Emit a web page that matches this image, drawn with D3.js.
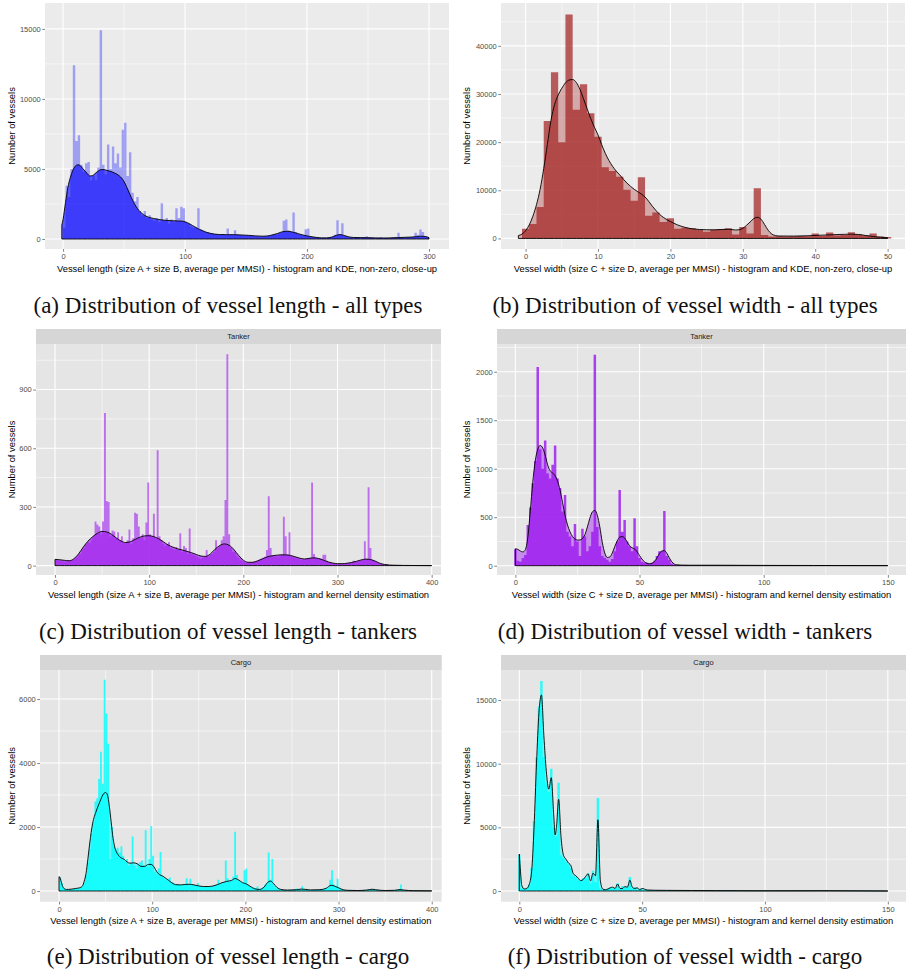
<!DOCTYPE html>
<html>
<head>
<meta charset="utf-8">
<script src="https://cdn.jsdelivr.net/npm/d3@7"></script>
<style>
  body { margin: 0; background: #fff; }
</style>
</head>
<body>
<div id="fig"></div>
<script>
////////////////////////
// DATA (read off fig) //
////////////////////////

// (a) all types, length: bins of 2 from 0
var countsA = [800,3800,3000,5000,12400,7000,7400,5300,4800,5400,
  5500,4200,4500,4200,5100,14900,5300,4600,6750,5000,
  6600,5400,6100,5100,7800,8300,4500,6200,3300,2700,
  3000,2000,1700,2000,1500,1700,1400,1300,1500,1200,
  2550,1300,1500,1100,1400,1200,2200,1500,2300,2200,
  1200,1100,900,800,800,2200,700,600,500,500,
  400,400,350,300,300,350,300,750,300,300,
  620,300,280,260,250,240,230,220,200,200,
  190,180,190,200,250,300,350,300,400,450,
  1300,1400,600,500,1900,500,350,300,250,700,
  750,200,150,130,120,110,100,90,100,120,
  150,300,1340,300,1120,200,150,120,110,100,
  100,90,100,120,200,150,100,90,80,90,
  150,80,70,80,90,100,120,450,120,100,
  110,120,130,150,450,300,670,500,200,150];
var kdeA = [[-1,1000],[0,1400],[2,2600],[4,3700],[6,4400],[8,4900],[10,5200],[12,5300],[14,5250],[16,5050],
  [18,4850],[20,4650],[22,4500],[24,4520],[26,4650],[28,4800],[30,4920],[32,4960],[34,4950],[36,4900],
  [38,4850],[40,4800],[42,4720],[44,4640],[46,4520],[48,4350],[50,4100],[52,3750],[54,3350],[56,2950],
  [58,2600],[60,2300],[62,2060],[64,1880],[66,1740],[68,1630],[70,1560],[74,1470],[78,1400],[82,1350],
  [86,1320],[90,1300],[94,1290],[98,1270],[100,1230],[102,1160],[104,1070],[106,970],[108,870],[110,770],
  [112,680],[114,600],[116,530],[118,470],[120,420],[124,350],[128,320],[134,310],[140,310],[146,290],
  [152,260],[158,220],[164,200],[168,220],[172,300],[176,400],[180,520],[184,550],[188,500],[192,400],
  [196,300],[200,220],[204,160],[208,110],[212,80],[216,80],[220,130],[224,260],[227,320],[230,260],
  [234,160],[238,110],[244,100],[250,90],[256,80],[262,70],[268,80],[274,100],[280,120],[286,140],
  [290,170],[294,200],[297,180],[300,100]];

// (b) all types, width: bins of 1 centred on integers
var countsB = [2000,3000,6500,24400,34500,20000,46500,26700,32000,26000,
  21100,14800,14000,12800,10100,7800,12700,4700,5400,3400,
  4200,2000,2200,2100,1800,1400,1800,1900,2100,800,
  2350,1000,10400,700,400,450,400,450,500,450,
  1000,500,1250,600,700,1300,800,600,1000,400,300];
var kdeB = [[-1,600],[-0.5,900],[0,1600],[0.5,2800],[1,4600],[1.5,7000],[2,10200],[2.5,14500],[3,19500],[3.5,24500],
  [4,27800],[4.5,29800],[5,31200],[5.5,32300],[6,32900],[6.5,33000],[7,32400],[7.5,31000],[8,29000],[8.5,26900],
  [9,24900],[9.5,23100],[10,21500],[10.5,19500],[11,17700],[11.5,16200],[12,15000],[12.5,14000],[13,13200],[13.5,12300],
  [14,11500],[14.5,10800],[15,10200],[15.5,9700],[16,9200],[16.5,8600],[17,7700],[17.5,6700],[18,5800],[18.5,5000],
  [19,4400],[19.5,3900],[20,3500],[21,2800],[22,2300],[23,2000],[24,1850],[25,1800],[26,1780],[27,1850],
  [28,1900],[29,1750],[29.5,1800],[30,2100],[30.5,2700],[31,3400],[31.5,4100],[32,4400],[32.5,4000],[33,2900],
  [33.5,1700],[34,900],[34.5,600],[35,500],[37,480],[39,550],[41,680],[43,800],[45,880],[46,820],
  [47,600],[48,400],[49,250],[50,150]];

// (c) tankers, length: bins of 2 from 0
var countsC = [30,28,25,22,20,20,22,25,28,30,
  35,45,55,60,80,90,110,120,115,130,
  150,225,210,200,160,225,780,330,325,150,
  180,175,140,170,130,150,115,120,130,185,
  110,140,270,265,200,140,160,130,220,425,
  160,150,265,140,590,150,130,110,100,110,
  120,90,85,80,95,80,165,70,100,90,
  60,190,60,55,50,45,40,35,40,45,
  80,45,55,60,70,130,90,100,130,150,
  335,1080,160,90,70,70,50,40,30,25,
  20,15,15,15,18,20,22,25,30,35,
  40,45,80,355,90,50,45,50,45,50,
  55,250,150,55,170,50,45,40,38,35,
  30,30,32,35,38,40,425,60,40,35,
  38,35,55,55,25,18,15,12,10,8,
  8,8,10,10,12,12,14,16,25,18,
  20,22,25,30,125,35,400,90,30,25,
  18,12,10,8,6,5,4,3,3,2,
  2,1,1,1,1,1,1,1,1,0,
  0,0,0,0,0,0,0,0,0,0];
var kdeC = [[0,32],[5,30],[10,27],[15,25],[20,35],[25,60],[30,95],[35,125],[40,148],[45,165],
  [50,175],[55,172],[60,160],[65,142],[70,126],[75,118],[80,122],[85,134],[90,145],[95,152],
  [100,153],[105,148],[110,138],[115,122],[120,106],[125,95],[130,86],[135,80],[140,73],[145,66],
  [150,57],[155,49],[160,47],[165,60],[170,84],[175,103],[180,111],[185,104],[190,82],[195,52],
  [200,28],[205,17],[210,17],[215,24],[220,34],[225,44],[230,50],[235,53],[240,55],[245,55],
  [250,52],[255,45],[260,38],[265,34],[270,37],[275,40],[280,36],[285,28],[290,19],[295,13],
  [300,10],[305,10],[310,12],[315,16],[320,22],[325,29],[330,33],[335,31],[340,23],[345,12],
  [350,6],[355,3],[360,2],[370,1],[380,0.5],[400,0]];

// (d) tankers, width: bins of 1 centred on integers
var countsD = [170,50,40,80,110,420,600,850,1080,2050,
  1200,1000,1290,950,900,1040,1240,900,800,560,
  730,350,300,200,430,250,100,380,300,150,
  200,350,2175,400,200,100,80,60,40,70,
  150,250,780,350,470,250,200,150,490,200,
  80,40,30,30,25,30,50,100,150,150,
  565,100,60,20,10,5,4,3,3,3,
  2,2,2,2,2,2,2,2,2,2,
  2,2,1,2,1,2,1,1,2,1,
  1,1,1,1,1,1,1,1,1,1,
  1,1,1,1,1,0,1,1,0,1,
  1,0,1,0,1,1,0,1,0,1,
  0,1,0,1,0,0,1,0,1,0,
  0,1,0,0,1,0,0,1,0,0,
  0,0,1,0,0,0,0,1,0,0,0];
var kdeD = [[0,175],[1,168],[2,152],[3,142],[4,165],[5,290],[6,560],[7,860],[8,1080],[9,1200],
  [10,1240],[11,1215],[12,1140],[13,1040],[14,980],[15,955],[16,930],[17,870],[18,780],[19,650],
  [20,520],[21,420],[22,350],[23,300],[24,275],[25,265],[26,265],[27,280],[28,320],[29,400],
  [30,490],[31,555],[32,570],[33,520],[34,400],[35,240],[36,130],[37,85],[38,90],[39,130],
  [40,195],[41,255],[42,295],[43,300],[44,285],[45,245],[46,205],[47,185],[48,172],[49,145],
  [50,105],[51,68],[52,40],[53,25],[54,20],[55,25],[56,42],[57,80],[58,125],[59,152],
  [60,155],[61,128],[62,80],[63,40],[64,17],[65,9],[67,6],[70,5],[80,5],[90,4],
  [100,3],[120,2],[150,1]];

// (e) cargo, length: bins of 2 from 0
var countsE = [430,250,100,60,50,45,50,55,65,75,
  90,110,140,250,500,900,1300,1800,2150,2800,
  2900,3500,4350,3350,6600,5550,4600,1000,2000,1400,
  1300,1350,1200,1400,1100,950,1000,800,850,1700,
  800,700,850,900,950,800,1900,750,1000,2030,
  1100,600,550,700,1220,450,400,350,380,420,
  280,250,220,200,190,180,200,220,400,200,
  380,200,190,180,250,160,150,140,130,140,
  130,140,150,170,200,350,230,260,280,950,
  400,300,320,450,1850,500,350,300,250,650,
  700,200,160,120,100,80,150,60,70,100,
  180,250,1200,350,1000,150,100,70,50,40,
  35,30,30,30,35,40,45,80,60,50,
  150,50,45,40,35,30,35,40,40,45,
  50,45,60,90,120,350,650,200,150,380,
  100,60,40,30,25,20,15,15,15,15,
  15,18,20,25,30,35,40,50,60,45,
  35,25,20,15,15,12,12,14,15,18,
  20,30,60,200,40,25,15,12,10,8,
  8,6,6,5,5,5,4,4,4,4];
var kdeE = [[0,450],[1,420],[2,330],[3,220],[4,140],[5,90],[6,65],[8,50],[10,50],[14,60],
  [18,80],[22,100],[25,150],[27,300],[29,550],[31,1000],[33,1500],[36,2100],[40,2500],[44,2800],
  [47,3000],[50,3080],[52,3000],[54,2650],[56,2150],[58,1650],[60,1350],[63,1150],[66,1050],[70,990],
  [73,910],[76,870],[80,880],[84,850],[88,770],[92,770],[96,830],[99,830],[102,750],[105,600],
  [108,510],[111,470],[115,390],[120,280],[125,200],[130,190],[135,205],[140,210],[145,190],[150,160],
  [155,140],[160,140],[165,155],[170,200],[175,260],[180,300],[185,330],[189,390],[193,340],[197,260],
  [201,220],[205,150],[210,70],[215,50],[220,120],[224,270],[227,310],[230,240],[234,110],[238,50],
  [245,30],[255,40],[260,60],[265,50],[270,35],[280,40],[287,90],[292,180],[296,150],[300,100],
  [305,40],[310,22],[320,15],[330,30],[336,55],[340,40],[350,15],[360,22],[366,45],[370,30],
  [380,10],[400,5]];

// (f) cargo, width: bins of 1 centred on integers
var countsF = [2800,200,150,250,500,1800,5500,10500,14500,16500,
  10500,8500,7800,9600,5000,4300,8500,2800,2600,2300,
  2100,1800,1200,1100,900,800,1000,1000,1400,600,
  1600,700,7300,200,100,100,200,300,200,200,
  600,150,400,300,300,1100,200,300,100,200,
  100,80,70,70,60,60,60,50,50,50,
  50,40,40,40,40,40,40,40,40,40,
  40,35,35,35,35,35,35,30,30,30,
  30,30,30,30,30,30,30,30,25,25,
  25,25,25,25,25,25,25,25,25,25,
  20,20,20,20,20,20,20,20,20,20,
  20,20,20,20,20,20,20,20,20,20,
  20,20,20,20,20,60,20,20,20,20,
  20,20,20,20,20,15,15,15,15,15,
  15,15,15,15,15,15,15,15,15,15,10];
var kdeF = [[0,2900],[0.5,1500],[1,450],[2,160],[3,200],[4,500],[5,1500],[6,5000],[7,10000],[8,14000],
  [9,15400],[10,12200],[11,9400],[12,8000],[13,8900],[14,6000],[14.6,4400],[15.2,5200],[16,7200],[17,4200],
  [18,2800],[19,2500],[20,2200],[21,2000],[22,1350],[23,1200],[24,1000],[25,820],[26,900],[27,1150],
  [28,1350],[29,800],[30,1400],[31,1200],[32,5600],[33,800],[34,150],[35,100],[36,150],[37,250],
  [38,300],[39,200],[40,550],[41,200],[42,200],[43,350],[44,300],[45,850],[46,300],[47,200],
  [48,250],[49,100],[50,200],[51,150],[52,80],[55,60],[60,50],[70,40],[80,30],[100,20],
  [126,25],[150,0]];

// tick values
var xTicksLenAll = [0, 100, 200, 300], xMinorLenAll = [50, 150, 250];
var xTicksWidAll = [0, 10, 20, 30, 40, 50], xMinorWidAll = [5, 15, 25, 35, 45];
var xTicksLen = [0, 100, 200, 300, 400], xMinorLen = [50, 150, 250, 350];
var xTicksWid = [0, 50, 100, 150], xMinorWid = [25, 75, 125];
var yTicksA = [0, 5000, 10000, 15000], yMinorA = [2500, 7500, 12500];
var yTicksB = [0, 10000, 20000, 30000, 40000], yMinorB = [5000, 15000, 25000, 35000, 45000];
var yTicksC = [0, 300, 600, 900], yMinorC = [150, 450, 750, 1050];
var yTicksD = [0, 500, 1000, 1500, 2000], yMinorD = [250, 750, 1250, 1750, 2250];
var yTicksE = [0, 2000, 4000, 6000], yMinorE = [1000, 3000, 5000];
var yTicksF = [0, 5000, 10000, 15000], yMinorF = [2500, 7500, 12500];

// texts
var yTitle = "Number of vessels";
var xTitles = [
  "Vessel length (size A + size B, average per MMSI) - histogram and KDE, non-zero, close-up",
  "Vessel width (size C + size D, average per MMSI) - histogram and KDE, non-zero, close-up",
  "Vessel length (size A + size B, average per MMSI) - histogram and kernel density estimation",
  "Vessel width (size C + size D, average per MMSI) - histogram and kernel density estimation"
];
var captions = [
  "(a) Distribution of vessel length - all types",
  "(b) Distribution of vessel width - all types",
  "(c) Distribution of vessel length - tankers",
  "(d) Distribution of vessel width - tankers",
  "(e) Distribution of vessel length - cargo",
  "(f) Distribution of vessel width - cargo"
];
var stripLabels = ["Tanker", "Cargo"];

/////////////
// PANELS  //
/////////////

var panels = [
  { counts: countsA, binStart: 0, binWidth: 2, kde: kdeA,
    box: [45, 449, 3, 249], xDomain: [-14.8, 316.4], yDomain: [-714, 16850],
    xTicks: xTicksLenAll, xMinor: xMinorLenAll, yTicks: yTicksA, yMinor: yMinorA,
    fill: "#0000ff", histAlpha: 0.32, kdeAlpha: 0.62, bg: "#ebebeb",
    xTitle: xTitles[0], strip: null, caption: captions[0], capX: 228, capY: 313, yTitleX: 12 },
  { counts: countsB, binStart: -0.5, binWidth: 1, kde: kdeB,
    box: [501, 905, 3, 249], xDomain: [-3.4, 52.4], yDomain: [-2200, 48900],
    xTicks: xTicksWidAll, xMinor: xMinorWidAll, yTicks: yTicksB, yMinor: yMinorB,
    fill: "#a52a2a", histAlpha: 0.75, kdeAlpha: 0.35, bg: "#ebebeb",
    xTitle: xTitles[1], strip: null, caption: captions[1], capX: 685, capY: 313, yTitleX: 467 },
  { counts: countsC, binStart: 0, binWidth: 2, kde: kdeC,
    box: [36, 441, 344, 575], xDomain: [-20.2, 409.9], yDomain: [-48, 1133],
    xTicks: xTicksLen, xMinor: xMinorLen, yTicks: yTicksC, yMinor: yMinorC,
    fill: "#a020f0", histAlpha: 0.6, kdeAlpha: 0.7, bg: "#e5e5e5",
    xTitle: xTitles[2], strip: stripLabels[0], caption: captions[2], capX: 228, capY: 639, yTitleX: 12 },
  { counts: countsD, binStart: -0.5, binWidth: 1, kde: kdeD,
    box: [497, 906, 344, 575], xDomain: [-7.4, 157.3], yDomain: [-96, 2286],
    xTicks: xTicksWid, xMinor: xMinorWid, yTicks: yTicksD, yMinor: yMinorD,
    fill: "#a020f0", histAlpha: 0.85, kdeAlpha: 0.45, bg: "#e5e5e5",
    xTitle: xTitles[3], strip: stripLabels[0], caption: captions[3], capX: 685, capY: 639, yTitleX: 467 },
  { counts: countsE, binStart: 0, binWidth: 2, kde: kdeE,
    box: [40, 441.7, 670, 901.7], xDomain: [-20.4, 410.7], yDomain: [-334, 6906],
    xTicks: xTicksLen, xMinor: xMinorLen, yTicks: yTicksE, yMinor: yMinorE,
    fill: "#00ffff", histAlpha: 0.8, kdeAlpha: 0.5, bg: "#e5e5e5",
    xTitle: xTitles[2], strip: stripLabels[1], caption: captions[4], capX: 228, capY: 964, yTitleX: 12 },
  { counts: countsF, binStart: -0.5, binWidth: 1, kde: kdeF,
    box: [501, 906, 670, 901.7], xDomain: [-7.45, 157.4], yDomain: [-840, 17360],
    xTicks: xTicksWid, xMinor: xMinorWid, yTicks: yTicksF, yMinor: yMinorF,
    fill: "#00ffff", histAlpha: 0.8, kdeAlpha: 0.5, bg: "#e5e5e5",
    xTitle: xTitles[3], strip: stripLabels[1], caption: captions[5], capX: 685, capY: 964, yTitleX: 467 }
];

var sans = "'Liberation Sans', Arial, Helvetica, sans-serif";
var serif = "'Liberation Serif', 'Times New Roman', serif";

var svg = d3.select("#fig").append("svg")
  .attr("width", 907)
  .attr("height", 973)
  .style("font-family", sans);

panels.forEach(drawPanel);

function drawPanel(p) {
  var left = p.box[0], right = p.box[1], top = p.box[2], bottom = p.box[3];
  var x = d3.scaleLinear().domain(p.xDomain).range([left, right]);
  var y = d3.scaleLinear().domain(p.yDomain).range([bottom, top]);
  var g = svg.append("g");

  // facet strip
  if (p.strip) {
    g.append("rect")
      .attr("x", left).attr("y", top - 15)
      .attr("width", right - left).attr("height", 15)
      .attr("fill", "#d6d6d6");
    g.append("text")
      .attr("x", (left + right) / 2).attr("y", top - 7.5)
      .attr("dy", "0.35em")
      .attr("text-anchor", "middle")
      .attr("font-size", 7.5)
      .attr("fill", "#1a1a1a")
      .text(p.strip);
  }

  // panel background
  g.append("rect")
    .attr("x", left).attr("y", top)
    .attr("width", right - left).attr("height", bottom - top)
    .attr("fill", p.bg);

  // grid lines (minor first, then major)
  function vgrid(vals, w) {
    g.append("g").selectAll("line").data(vals).enter().append("line")
      .attr("x1", function (d) { return x(d); }).attr("x2", function (d) { return x(d); })
      .attr("y1", top).attr("y2", bottom)
      .attr("stroke", "#fff").attr("stroke-width", w);
  }
  function hgrid(vals, w) {
    g.append("g").selectAll("line").data(vals).enter().append("line")
      .attr("y1", function (d) { return y(d); }).attr("y2", function (d) { return y(d); })
      .attr("x1", left).attr("x2", right)
      .attr("stroke", "#fff").attr("stroke-width", w);
  }
  vgrid(p.xMinor, 0.55);
  hgrid(p.yMinor, 0.55);
  vgrid(p.xTicks, 1.1);
  hgrid(p.yTicks, 1.1);

  // histogram as one stepped shape (no seams between bars)
  var steps = p.counts.map(function (c, i) { return [p.binStart + i * p.binWidth, c]; });
  steps.push([p.binStart + p.counts.length * p.binWidth, p.counts[p.counts.length - 1]]);
  var histArea = d3.area()
    .x(function (d) { return x(d[0]); })
    .y0(y(0))
    .y1(function (d) { return y(d[1]); })
    .curve(d3.curveStepAfter);
  g.append("path")
    .datum(steps)
    .attr("d", histArea)
    .attr("fill", p.fill)
    .attr("fill-opacity", p.histAlpha);

  // kernel density (scaled to counts), outlined polygon
  var kdeArea = d3.area()
    .x(function (d) { return x(d[0]); })
    .y0(y(0))
    .y1(function (d) { return y(d[1]); })
    .curve(d3.curveMonotoneX);
  g.append("path")
    .datum(p.kde)
    .attr("d", kdeArea)
    .attr("fill", p.fill)
    .attr("fill-opacity", p.kdeAlpha)
    .attr("stroke", "#000")
    .attr("stroke-width", 0.9)
    .attr("stroke-linejoin", "round");

  // axes
  var xAxis = d3.axisBottom(x).tickValues(p.xTicks).tickSize(2.75).tickPadding(2).tickFormat(d3.format("d"));
  var yAxis = d3.axisLeft(y).tickValues(p.yTicks).tickSize(2.75).tickPadding(1.5).tickFormat(d3.format("d"));

  g.append("g")
    .attr("transform", "translate(0," + bottom + ")")
    .call(xAxis)
    .call(styleAxis);
  g.append("g")
    .attr("transform", "translate(" + left + ",0)")
    .call(yAxis)
    .call(styleAxis);

  // axis titles
  g.append("text")
    .attr("x", (left + right) / 2).attr("y", bottom + 22.5)
    .attr("text-anchor", "middle")
    .attr("font-size", 9.4)
    .attr("fill", "#000")
    .text(p.xTitle);
  g.append("text")
    .attr("transform", "translate(" + p.yTitleX + "," + ((top + bottom) / 2) + ") rotate(-90)")
    .attr("dy", "0.35em")
    .attr("text-anchor", "middle")
    .attr("font-size", 9.4)
    .attr("fill", "#000")
    .text(yTitle);

  // sub-figure caption
  svg.append("text")
    .attr("x", p.capX).attr("y", p.capY)
    .attr("text-anchor", "middle")
    .style("font-family", serif)
    .attr("font-size", 23)
    .attr("fill", "#111")
    .text(p.caption);
}

function styleAxis(a) {
  a.attr("font-family", null).attr("font-size", null);
  a.select(".domain").remove();
  a.selectAll(".tick line").attr("stroke", "#333").attr("stroke-width", 0.6);
  a.selectAll(".tick text").attr("fill", "#4d4d4d").attr("font-size", 7.5);
}
</script>
</body>
</html>
